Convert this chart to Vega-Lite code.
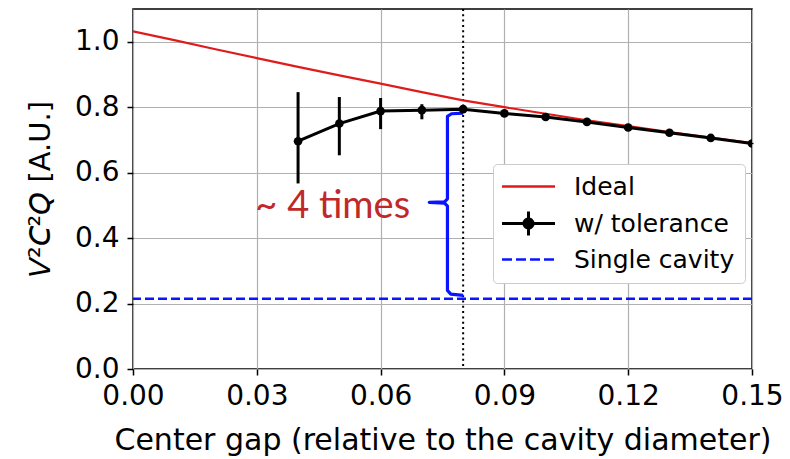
{
  "$schema": "https://vega.github.io/schema/vega-lite/v6.json",
  "width": 619,
  "height": 360,
  "autosize": {"type": "none"},
  "padding": {"left": 133, "top": 9, "right": 38, "bottom": 90},
  "background": "white",
  "data": {"values": [{}]},
  "config": {
    "font": "DejaVu Sans",
    "view": {"stroke": "#000000", "strokeWidth": 1.5},
    "axis": {
      "domain": false,
      "grid": true,
      "gridColor": "#b0b0b0",
      "gridWidth": 1.2,
      "tickColor": "#000000",
      "tickSize": 6,
      "tickWidth": 1.5,
      "labelColor": "#000000",
      "titleColor": "#000000",
      "labelFontSize": 28,
      "titleFontWeight": "normal",
      "labelOverlap": false,
      "labelFlush": false
    }
  },
  "datasets": {
    "ideal": [
      {"gap": 0.00, "v": 1.032},
      {"gap": 0.01, "v": 1.005},
      {"gap": 0.02, "v": 0.977},
      {"gap": 0.03, "v": 0.950},
      {"gap": 0.04, "v": 0.923},
      {"gap": 0.05, "v": 0.897},
      {"gap": 0.06, "v": 0.872},
      {"gap": 0.07, "v": 0.846},
      {"gap": 0.08, "v": 0.821},
      {"gap": 0.09, "v": 0.800},
      {"gap": 0.10, "v": 0.780},
      {"gap": 0.11, "v": 0.760},
      {"gap": 0.12, "v": 0.742},
      {"gap": 0.13, "v": 0.724},
      {"gap": 0.14, "v": 0.707},
      {"gap": 0.15, "v": 0.690}
    ],
    "tolerance": [
      {"gap": 0.04, "v": 0.696, "lo": 0.567, "hi": 0.846},
      {"gap": 0.05, "v": 0.750, "lo": 0.653, "hi": 0.831},
      {"gap": 0.06, "v": 0.788, "lo": 0.733, "hi": 0.828},
      {"gap": 0.07, "v": 0.791, "lo": 0.763, "hi": 0.809},
      {"gap": 0.08, "v": 0.794, "lo": 0.783, "hi": 0.805},
      {"gap": 0.09, "v": 0.781, "lo": 0.775, "hi": 0.787},
      {"gap": 0.10, "v": 0.770, "lo": 0.766, "hi": 0.774},
      {"gap": 0.11, "v": 0.755, "lo": 0.752, "hi": 0.758},
      {"gap": 0.12, "v": 0.738, "lo": 0.736, "hi": 0.740},
      {"gap": 0.13, "v": 0.722, "lo": 0.720, "hi": 0.724},
      {"gap": 0.14, "v": 0.706, "lo": 0.704, "hi": 0.708},
      {"gap": 0.15, "v": 0.689, "lo": 0.687, "hi": 0.691}
    ],
    "brace": [
      {"i": 0, "gap": 0.0800, "v": 0.782},
      {"i": 1, "gap": 0.0772, "v": 0.780},
      {"i": 2, "gap": 0.0762, "v": 0.772},
      {"i": 3, "gap": 0.0762, "v": 0.520},
      {"i": 4, "gap": 0.0755, "v": 0.511},
      {"i": 5, "gap": 0.0718, "v": 0.509},
      {"i": 6, "gap": 0.0755, "v": 0.507},
      {"i": 7, "gap": 0.0762, "v": 0.498},
      {"i": 8, "gap": 0.0762, "v": 0.240},
      {"i": 9, "gap": 0.0770, "v": 0.229},
      {"i": 10, "gap": 0.0800, "v": 0.225}
    ]
  },
  "encoding": {
    "x": {
      "type": "quantitative",
      "scale": {"domain": [0, 0.15], "nice": false, "zero": false},
      "axis": {
        "values": [0, 0.03, 0.06, 0.09, 0.12, 0.15],
        "format": ".2f",
        "labelPadding": 7,
        "title": "Center gap (relative to the cavity diameter)",
        "titleFontSize": 30,
        "titlePadding": 15
      }
    },
    "y": {
      "type": "quantitative",
      "scale": {"domain": [0, 1.1], "nice": false},
      "axis": {
        "values": [0, 0.2, 0.4, 0.6, 0.8, 1.0],
        "format": ".1f",
        "labelPadding": 8,
        "title": "𝘝²𝘊²𝘘 [A.U.]",
        "titleFontSize": 29,
        "titlePadding": 19
      }
    }
  },
  "layer": [
    {
      "mark": {"type": "rule", "color": "#000000", "strokeWidth": 2, "strokeDash": [2, 3.3]},
      "encoding": {"x": {"datum": 0.08}}
    },
    {
      "mark": {"type": "rule", "strokeWidth": 2.5, "strokeDash": [9, 4]},
      "encoding": {
        "y": {"datum": 0.215},
        "color": {"datum": "Single cavity"}
      }
    },
    {
      "data": {"name": "brace"},
      "mark": {"type": "line", "color": "#0a14ff", "strokeWidth": 3.2, "strokeJoin": "round"},
      "encoding": {
        "x": {"field": "gap"},
        "y": {"field": "v"},
        "order": {"field": "i"}
      }
    },
    {
      "data": {"name": "ideal"},
      "mark": {"type": "line", "strokeWidth": 2.2, "clip": true},
      "encoding": {
        "x": {"field": "gap"},
        "y": {"field": "v"},
        "color": {
          "datum": "Ideal",
          "scale": {
            "domain": ["Ideal", "w/ tolerance", "Single cavity"],
            "range": ["#e01b1b", "#000000", "#0a14ff"]
          },
          "legend": {
            "title": null,
            "orient": "none",
            "legendX": 360,
            "legendY": 155,
            "symbolType": "stroke",
            "symbolSize": 2809,
            "symbolStrokeWidth": 2.5,
            "symbolOffset": 13,
            "labelFontSize": 25,
            "labelColor": "#000000",
            "labelOffset": 33,
            "labelLimit": 400,
            "padding": 10,
            "rowPadding": 5,
            "strokeColor": "#cccccc",
            "fillColor": "white",
            "cornerRadius": 4,
            "encode": {
              "symbols": {
                "update": {
                  "shape": {"signal": "datum.value === 'w/ tolerance' ? 'M-1,0H1M0,-0.45V0.45M0.17,0A0.17,0.17,0,1,1,-0.17,0A0.17,0.17,0,1,1,0.17,0Z' : 'stroke'"},
                  "fill": {"signal": "datum.value === 'w/ tolerance' ? '#000000' : 'transparent'"},
                  "strokeDash": {"signal": "datum.value === 'Single cavity' ? [10, 4] : [1, 0]"},
                  "strokeWidth": {"signal": "datum.value === 'w/ tolerance' ? 3 : 2.5"}
                }
              }
            }
          }
        }
      }
    },
    {
      "data": {"name": "tolerance"},
      "mark": {"type": "rule", "color": "#000000", "strokeWidth": 3},
      "encoding": {
        "x": {"field": "gap"},
        "y": {"field": "lo"},
        "y2": {"field": "hi"}
      }
    },
    {
      "data": {"name": "tolerance"},
      "mark": {"type": "line", "strokeWidth": 3, "clip": true},
      "encoding": {
        "x": {"field": "gap"},
        "y": {"field": "v"},
        "color": {"datum": "w/ tolerance"}
      }
    },
    {
      "data": {"name": "tolerance"},
      "mark": {"type": "point", "filled": true, "shape": "circle", "size": 75, "color": "#000000", "opacity": 1, "clip": true},
      "encoding": {
        "x": {"field": "gap"},
        "y": {"field": "v"}
      }
    },
    {
      "mark": {"type": "text", "text": "~ 4 times", "font": "Lato", "fontSize": 38, "color": "#c0282a", "align": "center", "baseline": "alphabetic"},
      "encoding": {
        "x": {"datum": 0.0484},
        "y": {"datum": 0.461}
      }
    }
  ]
}
